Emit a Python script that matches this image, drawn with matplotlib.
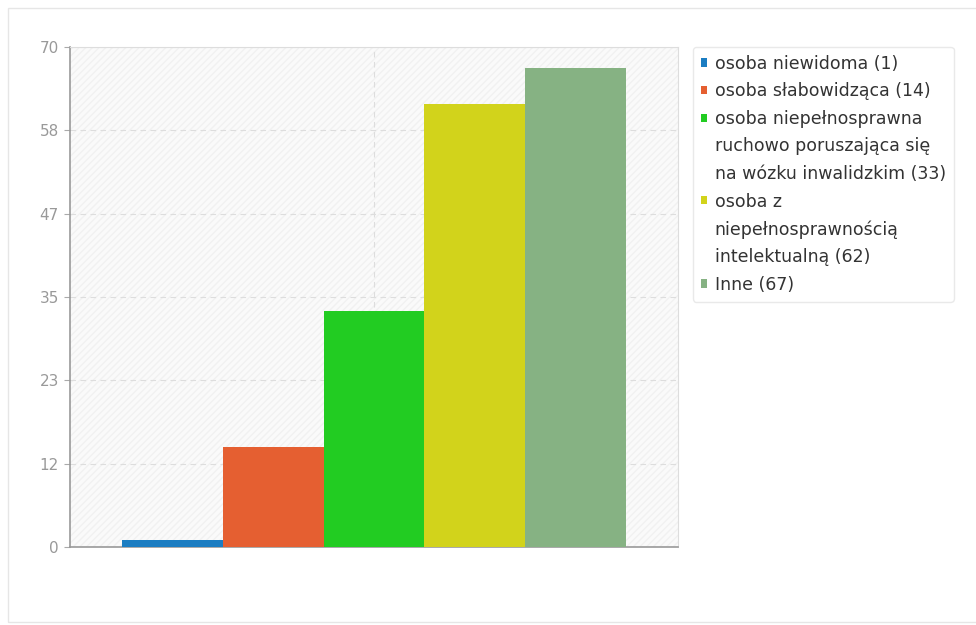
import matplotlib.pyplot as plt
from matplotlib.patches import Rectangle, Patch

categories = [
    "osoba niewidoma (1)",
    "osoba słabowidząca (14)",
    "osoba niepełnosprawna\nruchowo poruszająca się\nna wózku inwalidzkim (33)",
    "osoba z\nniepełnosprawnością\nintelektualną (62)",
    "Inne (67)",
]
values = [1, 14, 33, 62, 67]
colors = ["#1b7dc2", "#e55f31", "#22cc22", "#d2d31b", "#86b283"]
yticks = [0, 70 / 6, 70 / 3, 35, 140 / 3, 350 / 6, 70]
ytick_labels = ["0", "12", "23", "35", "47", "58", "70"]

fig = plt.figure(figsize=(9.76, 6.25), dpi=100)
fig.patch.set_facecolor("white")

# outer frame
fig.patches.append(Rectangle((8 / 976, 3 / 625), 1.0, 1 - 11 / 625,
                             transform=fig.transFigure, fill=False,
                             edgecolor="#e6e6e6", linewidth=1.0))

ax = fig.add_axes([70 / 976, 78 / 625, 608 / 976, 500 / 625])
ax.set_facecolor("#fafafa")
ax.add_patch(Rectangle((0, 0), 1, 1, transform=ax.transAxes, fill=False,
                       hatch="/////", edgecolor="#f1f1f1", linewidth=0, zorder=0))

w = 0.166
for i, (cat, v, c) in enumerate(zip(categories, values, colors)):
    ax.bar((i - 2) * w, v, width=w, color=c, edgecolor="none", zorder=3)

ax.set_xlim(-0.5, 0.5)
ax.set_ylim(0, 70)
ax.set_yticks(yticks)
ax.set_yticklabels(ytick_labels)
ax.set_xticks([0])
ax.set_xticklabels([""])
ax.tick_params(axis="x", length=0)
ax.tick_params(axis="y", length=4, color="#aaaaaa", labelcolor="#999999",
               labelsize=11, pad=4)
ax.grid(True, linestyle=(0, (5, 4)), color="#dddddd", linewidth=0.8, zorder=1)
ax.set_axisbelow(True)
for s in ["left", "bottom"]:
    ax.spines[s].set_color("#999999")
    ax.spines[s].set_linewidth(1.2)
for s in ["top", "right"]:
    ax.spines[s].set_color("#dddddd")
    ax.spines[s].set_linewidth(0.8)

# legend: one row per text line, marker only on the first line of each entry
handles, labels = [], []
for cat, c in zip(categories, colors):
    lines = cat.split("\n")
    handles.append(Patch(facecolor=c, edgecolor="none"))
    labels.append(lines[0])
    for ln in lines[1:]:
        handles.append(Patch(facecolor="none", edgecolor="none"))
        labels.append(ln)

leg = fig.legend(handles, labels, loc="upper left",
                 bbox_to_anchor=(693 / 976, 1 - 47 / 625),
                 fontsize=12.5, frameon=True, fancybox=True, shadow=False,
                 handlelength=0.35, handleheight=0.35, handletextpad=0.45,
                 labelspacing=0.55, borderpad=0.45, borderaxespad=0)
leg.get_frame().set_edgecolor("#e4e4e4")
leg.get_frame().set_linewidth(1.0)
for t in leg.get_texts():
    t.set_color("#333333")

fig.savefig("out.png", dpi=100)
